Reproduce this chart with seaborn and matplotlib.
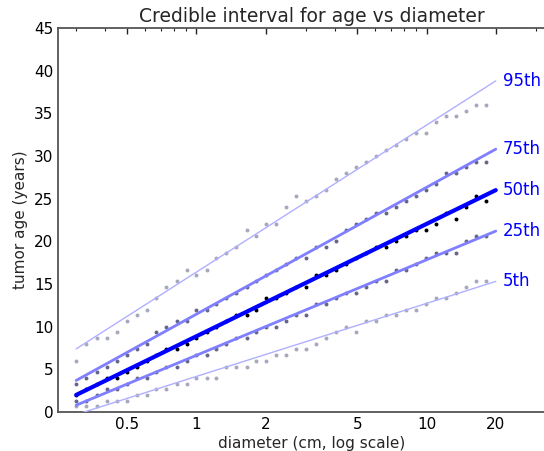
import numpy as np
import pandas as pd
import matplotlib
matplotlib.use("Agg")
import matplotlib.pyplot as plt
import seaborn as sns
from matplotlib.ticker import FixedLocator, FixedFormatter, LogLocator, NullFormatter

# diameters of the simulated points (cm)
diameters = [0.30, 0.33, 0.37, 0.41, 0.45, 0.50, 0.55, 0.61, 0.67, 0.74,
             0.82, 0.91, 1.00, 1.11, 1.22, 1.35, 1.49, 1.65, 1.82, 2.01,
             2.22, 2.46, 2.71, 3.00, 3.31, 3.66, 4.04, 4.47, 4.94, 5.45,
             6.03, 6.66, 7.36, 8.13, 8.98, 9.93, 10.97, 12.12, 13.39, 14.80,
             16.35, 18.07]

# percentiles of age at each diameter (years)
age_p95 = [6.00, 8.00, 8.67, 8.67, 9.33, 10.67, 11.33, 12.00, 13.33, 14.67,
           15.33, 16.67, 16.00, 16.67, 18.00, 18.67, 19.33, 21.33, 20.67, 22.00,
           22.00, 24.00, 25.33, 24.67, 25.33, 26.00, 27.33, 28.00, 28.67, 29.33,
           30.00, 30.67, 31.33, 32.00, 32.67, 32.67, 34.00, 34.67, 34.67, 35.33,
           36.00, 36.00]
age_p75 = [3.33, 4.00, 4.67, 5.33, 6.00, 6.67, 7.33, 8.00, 9.33, 10.00,
           10.67, 10.67, 12.00, 12.00, 12.67, 13.33, 14.00, 14.67, 15.33, 16.00,
           16.67, 17.33, 18.00, 18.00, 19.33, 19.33, 20.00, 21.33, 22.00, 22.67,
           23.33, 23.33, 24.00, 24.67, 25.33, 26.00, 26.67, 28.00, 28.00, 28.67,
           29.33, 29.33]
age_p50 = [2.00, 2.67, 3.33, 4.00, 4.00, 4.67, 5.33, 6.00, 6.67, 7.33,
           7.33, 8.00, 8.67, 9.33, 10.00, 10.67, 11.33, 11.33, 12.00, 13.33,
           13.33, 14.00, 14.67, 14.67, 16.00, 16.00, 16.67, 17.33, 18.00, 18.67,
           19.33, 19.33, 20.00, 20.67, 21.33, 21.33, 22.00, 23.33, 22.67, 24.00,
           25.33, 24.67]
age_p25 = [1.33, 1.33, 2.00, 2.67, 2.67, 3.33, 4.00, 4.00, 4.67, 5.33,
           5.33, 6.00, 6.67, 6.67, 7.33, 8.00, 8.67, 8.67, 9.33, 10.00,
           10.00, 10.67, 11.33, 11.33, 12.67, 12.67, 13.33, 14.00, 14.00, 14.67,
           15.33, 15.33, 16.67, 16.67, 17.33, 18.00, 18.67, 18.67, 18.67, 20.00,
           20.67, 20.67]
age_p5 = [0.67, 0.67, 0.67, 1.33, 1.33, 1.33, 2.00, 2.00, 2.67, 2.67,
          3.33, 3.33, 4.00, 4.00, 4.00, 5.33, 5.33, 5.33, 6.00, 6.00,
          6.67, 6.67, 7.33, 7.33, 8.00, 8.67, 9.33, 10.00, 9.33, 10.67,
          10.67, 11.33, 11.33, 12.00, 12.00, 12.67, 13.33, 13.33, 14.00, 14.67,
          15.33, 15.33]

# fitted lines (start and end age) over the diameter range
fit_diam = [0.3, 20.0]
fit_p95 = [7.4, 38.8]
fit_p75 = [3.7, 30.8]
fit_p50 = [2.0, 26.0]
fit_p25 = [0.8, 21.2]
fit_p5 = [-0.3, 15.3]

labels = ["95th", "75th", "50th", "25th", "5th"]
ages = [age_p95, age_p75, age_p50, age_p25, age_p5]
fits = [fit_p95, fit_p75, fit_p50, fit_p25, fit_p5]

dot_colors = ["#a8a8bc", "#66668a", "#000000", "#66668a", "#a8a8bc"]
line_colors = ["#b0b0ff", "#7f7fff", "#0000ff", "#7f7fff", "#b0b0ff"]
line_widths = [1.0, 2.0, 3.0, 2.0, 1.0]

sns.set_theme(style="white")
plt.rcParams['font.family'] = ['DejaVu Sans']

fig = plt.figure(figsize=(5.44, 4.51), dpi=100)
ax = fig.add_axes([58 / 544, 39 / 451, 507 / 544, 384 / 451])

for lab, a, f, dc, lc, lw in zip(labels, ages, fits, dot_colors, line_colors, line_widths):
    pts = pd.DataFrame({"diameter": diameters, "age": a})
    sns.scatterplot(data=pts, x="diameter", y="age", ax=ax, color=dc,
                    s=8, linewidth=0, zorder=2)
    fit = pd.DataFrame({"diameter": fit_diam, "age": f})
    sns.lineplot(data=fit, x="diameter", y="age", ax=ax, color=lc,
                 linewidth=lw, zorder=3)
    ax.text(21.5, f[1], lab, color="#0000ff", fontsize=12, va="center", ha="left")

ax.set_xscale("log")
ax.set_xlim(0.25, 40)
ax.set_ylim(0, 45)
ax.xaxis.set_major_locator(FixedLocator([0.5, 1, 2, 5, 10, 20]))
ax.xaxis.set_major_formatter(FixedFormatter(["0.5", "1", "2", "5", "10", "20"]))
ax.xaxis.set_minor_locator(LogLocator(base=10, subs=np.arange(2, 10)))
ax.xaxis.set_minor_formatter(NullFormatter())
ax.set_yticks(range(0, 46, 5))

for s in ax.spines.values():
    s.set_color("#555555")
    s.set_linewidth(1.3)
ax.tick_params(which="both", direction="in", top=True, right=True,
               colors="#222222", labelcolor="black")
ax.tick_params(which="major", length=4, width=1, labelsize=11)
ax.tick_params(which="minor", length=2, width=0.8)

ax.set_xlabel("diameter (cm, log scale)", fontsize=11, labelpad=3)
ax.set_ylabel("tumor age (years)", fontsize=11, labelpad=4)
ax.set_title("Credible interval for age vs diameter", fontsize=13.5, pad=4)

fig.savefig("out.png", dpi=100)
